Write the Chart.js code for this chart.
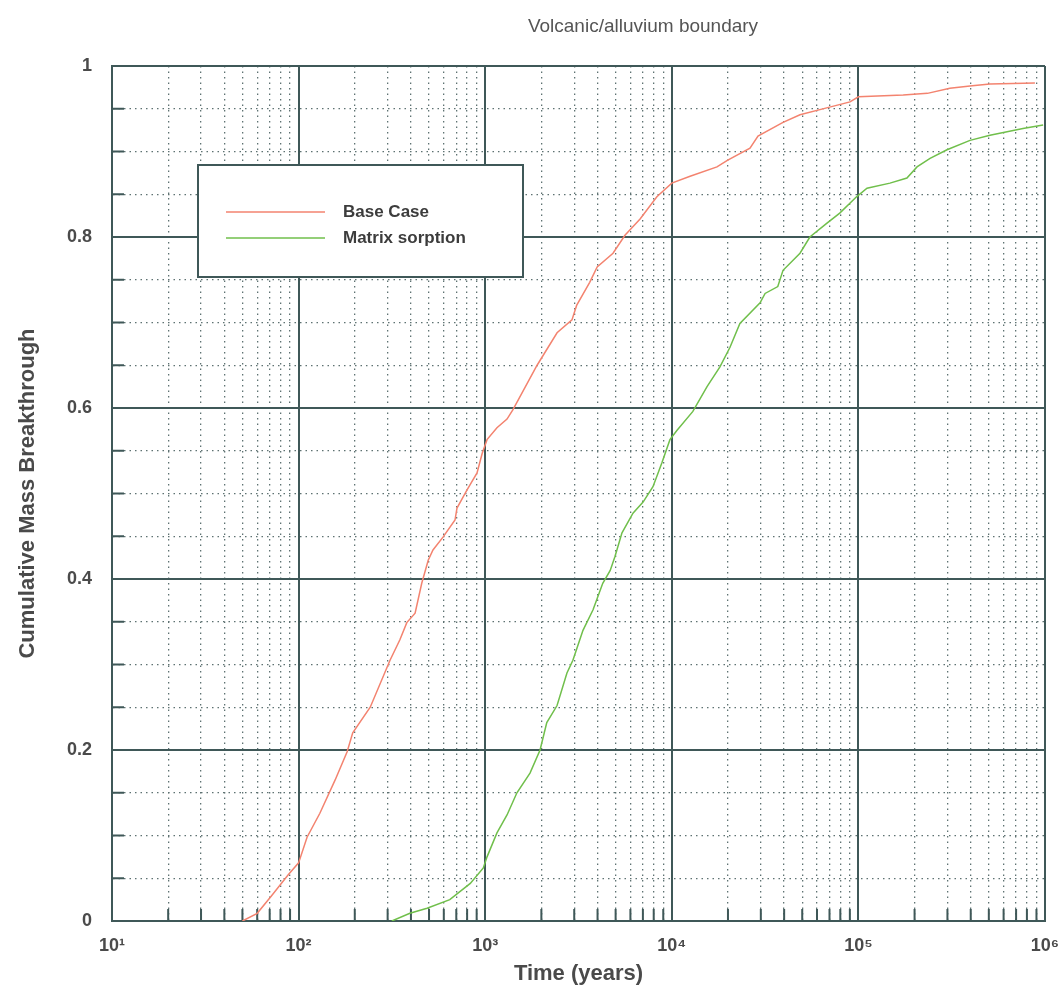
<!DOCTYPE html>
<html>
<head>
<meta charset="utf-8">
<title>Volcanic/alluvium boundary</title>
<script src="https://cdn.jsdelivr.net/npm/chart.js@4.4.1/dist/chart.umd.min.js"></script>
<style>
  html, body { margin: 0; padding: 0; background: #fff; }
  #wrap { width: 1060px; height: 991px; }
</style>
</head>
<body>
<div id="wrap"><canvas id="chart" width="1060" height="991"></canvas></div>
<script>
// Cumulative mass breakthrough
const timeBase = [50, 60, 72, 88, 100, 111, 130, 157, 182, 195, 242, 309, 349, 380, 421, 457, 495, 525,
  594, 689, 706, 798, 904, 964, 1023, 1156, 1309, 1409, 1897, 2427, 2917, 3090, 3631, 3981, 4842,
  5610, 6761, 8318, 10000, 12530, 17460, 19950, 26240, 28970, 39450, 48640, 67610, 90160, 100000,
  173800, 234400, 309000, 407400, 507000, 883000];
const massBase = [0, 0.009, 0.03, 0.054, 0.068, 0.098, 0.126, 0.165, 0.198, 0.22, 0.25, 0.305, 0.329, 0.349,
  0.36, 0.395, 0.422, 0.434, 0.449, 0.469, 0.483, 0.504, 0.524, 0.547, 0.563, 0.577, 0.587, 0.598, 0.65,
  0.688, 0.703, 0.72, 0.747, 0.765, 0.781, 0.802, 0.821, 0.847, 0.863, 0.871, 0.882, 0.89, 0.904, 0.918,
  0.934, 0.943, 0.951, 0.958, 0.964, 0.966, 0.968, 0.974, 0.977, 0.979, 0.98];

const timeMatrix = [316, 395, 488, 646, 832, 977, 1023, 1156, 1309, 1479, 1738, 1968, 2138, 2427, 2742, 2951,
  3342, 3784, 4266, 4677, 4955, 5408, 6194, 7015, 7925, 8851, 9772, 10670, 12970, 15450, 18110, 20510,
  23170, 29720, 31620, 36980, 39450, 48640, 54950, 67610, 79430, 97720, 111200, 147600, 182000, 206100,
  242100, 298500, 396300, 507000, 762100, 977200];
const massMatrix = [0, 0.009, 0.015, 0.025, 0.044, 0.062, 0.075, 0.103, 0.124, 0.15, 0.173, 0.2, 0.232, 0.252,
  0.29, 0.305, 0.34, 0.364, 0.395, 0.41, 0.426, 0.454, 0.477, 0.49, 0.508, 0.536, 0.563, 0.574, 0.596,
  0.625, 0.648, 0.671, 0.699, 0.723, 0.734, 0.742, 0.761, 0.781, 0.8, 0.816, 0.828, 0.847, 0.857, 0.863,
  0.869, 0.882, 0.892, 0.902, 0.913, 0.919, 0.927, 0.931];

// Axis ticks
const xDecades = [10, 100, 1000, 10000, 100000, 1000000];
const xDecadeLabels = ['10¹', '10²', '10³', '10⁴', '10⁵', '10⁶'];
const xMinorFactors = [2, 3, 4, 5, 6, 7, 8, 9];
const yMajorTicks = [0, 0.2, 0.4, 0.6, 0.8, 1];
const yTickLabels = ['0', '0.2', '0.4', '0.6', '0.8', '1'];
const yMinorStep = 0.05;

const seriesNames = ['Base Case', 'Matrix sorption'];
const seriesColors = ['#f3836f', '#70bf4b'];

const GRID_DARK = '#3f5858';
const GRID_DOT = '#5e7272';
const TEXT = '#4a4a4a';
const FONT = "'Liberation Sans', Arial, sans-serif";

const toPoints = (xs, ys) => xs.map((x, i) => ({ x, y: ys[i] }));

const isMajorX = v => xDecades.some(d => Math.abs(v - d) < d * 1e-6);
const isMajorY = v => yMajorTicks.some(m => Math.abs(v - m) < 1e-6);

const xTickValues = [];
xDecades.forEach((d, i) => {
    xTickValues.push(d);
    if (i < xDecades.length - 1) xMinorFactors.forEach(f => xTickValues.push(d * f));
});

const titlePlugin = {
    id: 'topTitle',
    afterDraw(chart) {
        const { ctx } = chart;
        ctx.save();
        ctx.font = `19px ${FONT}`;
        ctx.fillStyle = '#555';
        ctx.textAlign = 'center';
        ctx.textBaseline = 'middle';
        ctx.fillText('Volcanic/alluvium boundary', 643, 27);
        ctx.restore();
    }
};

// small inward tick marks at the minor grid positions
const innerTicks = {
    id: 'innerTicks',
    beforeDatasetsDraw(chart) {
        const { ctx, chartArea, scales } = chart;
        ctx.save();
        ctx.strokeStyle = GRID_DARK;
        ctx.lineWidth = 2;
        ctx.beginPath();
        scales.x.ticks.forEach((t, i) => {
            if (isMajorX(t.value)) return;
            const px = scales.x.getPixelForTick(i);
            ctx.moveTo(px, chartArea.bottom);
            ctx.lineTo(px, chartArea.bottom - 12);
        });
        scales.y.ticks.forEach((t, i) => {
            if (isMajorY(t.value)) return;
            const py = scales.y.getPixelForTick(i);
            ctx.moveTo(chartArea.left, py);
            ctx.lineTo(chartArea.left + 12, py);
        });
        ctx.stroke();
        ctx.restore();
    }
};

const boxLegend = {
    id: 'boxLegend',
    afterDatasetsDraw(chart) {
        const { ctx } = chart;
        const box = { x: 198, y: 165, w: 325, h: 112 };
        ctx.save();
        ctx.fillStyle = '#fff';
        ctx.fillRect(box.x, box.y, box.w, box.h);
        ctx.strokeStyle = GRID_DARK;
        ctx.lineWidth = 2;
        ctx.strokeRect(box.x, box.y, box.w, box.h);
        ctx.font = `bold 17px ${FONT}`;
        ctx.textBaseline = 'middle';
        chart.data.datasets.forEach((ds, i) => {
            const y = 212 + i * 26;
            ctx.strokeStyle = ds.borderColor;
            ctx.lineWidth = 1.5;
            ctx.beginPath();
            ctx.moveTo(226, y);
            ctx.lineTo(325, y);
            ctx.stroke();
            ctx.fillStyle = '#3c3c3c';
            ctx.fillText(ds.label, 343, y);
        });
        ctx.restore();
    }
};

new Chart(document.getElementById('chart'), {
    type: 'line',
    data: {
        datasets: [
            {
                label: seriesNames[0],
                data: toPoints(timeBase, massBase),
                borderColor: seriesColors[0],
                borderWidth: 1.5,
                pointRadius: 0,
                tension: 0,
                fill: false,
            },
            {
                label: seriesNames[1],
                data: toPoints(timeMatrix, massMatrix),
                borderColor: seriesColors[1],
                borderWidth: 1.5,
                pointRadius: 0,
                tension: 0,
                fill: false,
            }
        ]
    },
    options: {
        responsive: false,
        animation: false,
        layout: { padding: { top: 66, right: 15, left: 0, bottom: 0 } },
        plugins: {
            legend: { display: false },
            tooltip: { enabled: false },
            title: { display: false },
        },
        scales: {
            x: {
                type: 'logarithmic',
                min: 10,
                max: 1000000,
                afterBuildTicks(scale) {
                    scale.ticks = xTickValues.map(v => ({ value: v, major: isMajorX(v) }));
                },
                afterFit(scale) {
                    scale.height = 70;
                    scale.paddingLeft = 0;
                    scale.paddingRight = 0;
                },
                grid: {
                    drawTicks: false,
                    color: ctx => (ctx.tick && isMajorX(ctx.tick.value)) ? GRID_DARK : GRID_DOT,
                    lineWidth: ctx => (ctx.tick && isMajorX(ctx.tick.value)) ? 2 : 1.3,
                },
                border: {
                    color: GRID_DARK,
                    width: 2,
                    dash: ctx => (!ctx.tick || isMajorX(ctx.tick.value)) ? [] : [1.5, 4],
                },
                ticks: {
                    autoSkip: false,
                    maxRotation: 0,
                    padding: 14,
                    color: TEXT,
                    font: { family: FONT, size: 18, weight: 'bold' },
                    callback(value) {
                        const idx = xDecades.findIndex(d => Math.abs(value - d) < d * 1e-6);
                        return idx >= 0 ? xDecadeLabels[idx] : '';
                    }
                },
                title: {
                    display: true,
                    text: 'Time (years)',
                    color: TEXT,
                    font: { family: FONT, size: 22, weight: 'bold' },
                    padding: { top: 0, bottom: 4 },
                }
            },
            y: {
                min: 0,
                max: 1,
                afterBuildTicks(scale) {
                    const ticks = [];
                    for (let k = 0; k * yMinorStep <= 1 + 1e-9; k++) {
                        ticks.push({ value: Math.round(k * yMinorStep * 100) / 100 });
                    }
                    scale.ticks = ticks;
                },
                afterFit(scale) {
                    scale.width = 112;
                    scale.paddingTop = 0;
                    scale.paddingBottom = 0;
                },
                grid: {
                    drawTicks: false,
                    color: ctx => (ctx.tick && isMajorY(ctx.tick.value)) ? GRID_DARK : GRID_DOT,
                    lineWidth: ctx => (ctx.tick && isMajorY(ctx.tick.value)) ? 2 : 1.3,
                },
                border: {
                    color: GRID_DARK,
                    width: 2,
                    dash: ctx => (!ctx.tick || isMajorY(ctx.tick.value)) ? [] : [1.5, 4],
                },
                ticks: {
                    autoSkip: false,
                    padding: 20,
                    color: TEXT,
                    font: { family: FONT, size: 18, weight: 'bold' },
                    callback(value) {
                        const idx = yMajorTicks.findIndex(m => Math.abs(value - m) < 1e-6);
                        return idx >= 0 ? yTickLabels[idx] : '';
                    }
                },
                title: {
                    display: true,
                    text: 'Cumulative Mass Breakthrough',
                    color: TEXT,
                    font: { family: FONT, size: 22, weight: 'bold' },
                    padding: { top: 15, bottom: 0 },
                }
            }
        }
    },
    plugins: [titlePlugin, innerTicks, boxLegend]
});
</script>
</body>
</html>
